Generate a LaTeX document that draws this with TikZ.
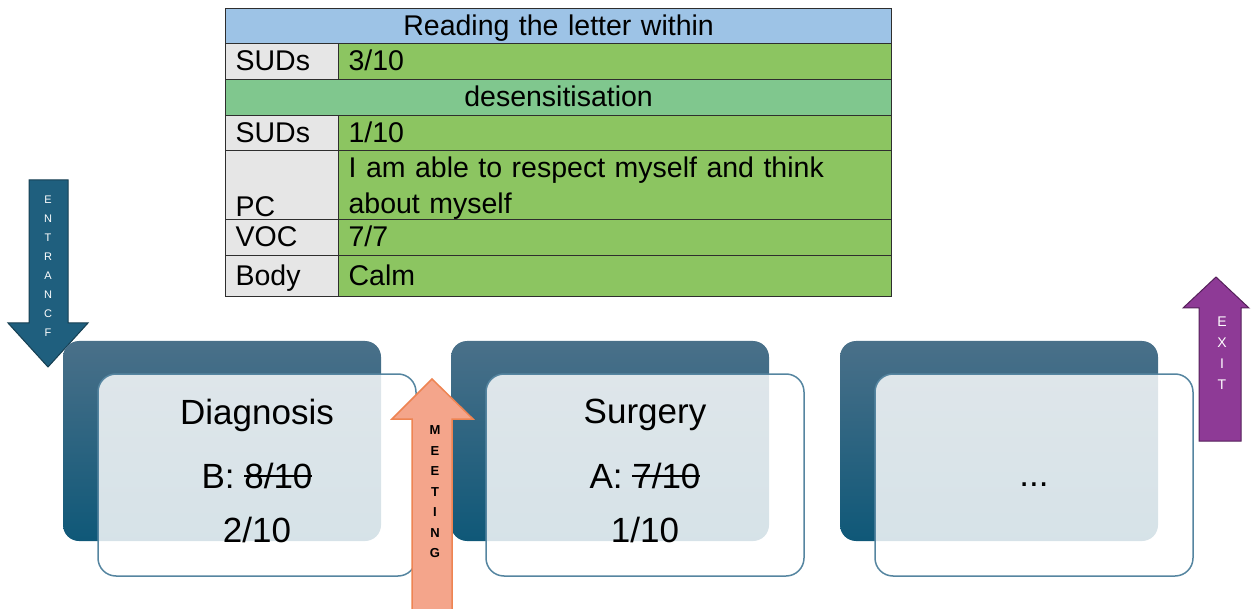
\documentclass[tikz,border=0pt]{standalone}
\usepackage{fontspec}
\setmainfont{Liberation Sans}
\usetikzlibrary{positioning}
\definecolor{HeadBlue}{HTML}{9DC3E6}
\definecolor{RowGreen}{HTML}{8CC561}
\definecolor{SubGreen}{HTML}{80C78E}
\definecolor{LabelGrey}{HTML}{E6E6E6}
\definecolor{TableLine}{HTML}{2E2E2E}
\definecolor{BackTop}{HTML}{4A7089}
\definecolor{BackBottom}{HTML}{0F5878}
\definecolor{CardLine}{HTML}{5585A0}
\definecolor{EntBlue}{HTML}{1F5F7E}
\definecolor{EntEdge}{HTML}{163F52}
\definecolor{MeetSalmon}{HTML}{F4A58B}
\definecolor{MeetEdge}{HTML}{EE8452}
\definecolor{ExitPurple}{HTML}{8E3A96}
\definecolor{ExitEdge}{HTML}{55205A}

\newcommand{\tablefont}{\fontsize{28.5}{36}\selectfont}
\newcommand{\cardfont}{\fontsize{35}{40}\selectfont}
\newcommand{\arrowfont}{\fontsize{11}{12}\selectfont}
\newcommand{\cellstrut}{\rule[-9pt]{0pt}{36pt}}
\newcommand{\struck}[1]{\setbox0\hbox{#1}\rlap{\rule[0.33em]{\wd0}{1.6pt}}\box0}

\tikzset{
  cell/.style={draw=TableLine, line width=1.2pt, anchor=north west, inner xsep=10pt, inner ysep=0pt, align=left, font=\tablefont},
  labcell/.style={cell, fill=LabelGrey, text width=93pt},
  valcell/.style={cell, fill=RowGreen, text width=533pt},
  spancell/.style={cell, align=center, text width=646pt},
  backbox/.style={rounded corners=16pt, top color=BackTop, bottom color=BackBottom, minimum width=318pt, minimum height=200pt, inner sep=0pt},
  cardbox/.style={rounded corners=18pt, draw=CardLine, line width=1.5pt, fill=white, fill opacity=0.83, minimum width=318pt, minimum height=202pt, inner sep=0pt},
  cardtext/.style={font=\cardfont},
  arrowtxt/.style={font=\arrowfont, inner sep=0pt}
}

\begin{document}
\begin{tikzpicture}[x=1pt, y=-1pt]
        \useasboundingbox (0,0) rectangle (1255,609);

        % Table
        \node[spancell, fill=HeadBlue, minimum height=35pt] (head) at (225,8) {\cellstrut Reading the letter within};
        \node[spancell, fill=SubGreen, minimum height=36pt] (desens) at (225,79) {\cellstrut desensitisation};
        \foreach \y/\h/\l/\v [count=\i] in {43/36/SUDs/{3/10}, 115/35/SUDs/{1/10}, 219/36/VOC/{7/7}, 255/41/Body/Calm} {
            \node[labcell, minimum height=\h pt] (lab\i) at (225,\y) {\cellstrut\l};
            \node[valcell, minimum height=\h pt] (val\i) at (338,\y) {\cellstrut\v};
        }
        \node[labcell, minimum height=69pt] (pc) at (225,150) {\cellstrut\\PC};
        \node[valcell, minimum height=69pt] (pcv) at (338,150) {\cellstrut I am able to respect myself and think\\about myself};

        % Entrance and exit arrows
        \draw[fill=EntBlue, draw=EntEdge, line width=1pt] (29,180) -- (68,180) -- (68,323) -- (88,323) -- (48,367) -- (8,323) -- (29,323) -- cycle;
        \foreach \l [count=\k] in {E,N,T,R,A,N,C,F} {
            \node[arrowtxt, text=white] (ent\k) at (48,{181+19*\k}) {\l};
        }
        \draw[fill=ExitPurple, draw=ExitEdge, line width=1pt] (1199,441) -- (1199,308) -- (1183,308) -- (1216,277) -- (1249,308) -- (1241,308) -- (1241,441) -- cycle;
        \foreach \l [count=\k] in {E,X,I,T} {
            \node[arrowtxt, text=white, font=\fontsize{14}{16}\selectfont] (exit\k) at (1222,{301+21*\k}) {\l};
        }

        % Stage boxes
        \foreach \x [count=\i] in {63,451,840} {
            \node[backbox] (back\i) at ({\x+159},441) {};
            \node[cardbox] (card\i) at ({\x+194},475) {};
        }
        \foreach \x/\t/\s/\n [count=\i] in {257/Diagnosis/{B: \struck{8/10}}/{2/10}, 645/Surgery/{A: \struck{7/10}}/{1/10}} {
            \node[cardtext] (title\i) at (\x,415) {\t};
            \node[cardtext] (old\i) at (\x,476) {\s};
            \node[cardtext] (now\i) at (\x,530) {\n};
        }
        \node[cardtext] (more) at (1034,485) {...};

        % Meeting arrow
        \draw[fill=MeetSalmon, draw=MeetEdge, line width=1.5pt] (412,615) -- (412,419) -- (392,419) -- (432,379) -- (473,419) -- (452,419) -- (452,615);
        \foreach \l [count=\k] in {M,E,E,T,I,N,G} {
            \node[arrowtxt, font=\fontsize{13}{15}\selectfont\bfseries] (meet\k) at (435,{410+20.5*\k}) {\l};
        }

    \end{tikzpicture}
\end{document}
